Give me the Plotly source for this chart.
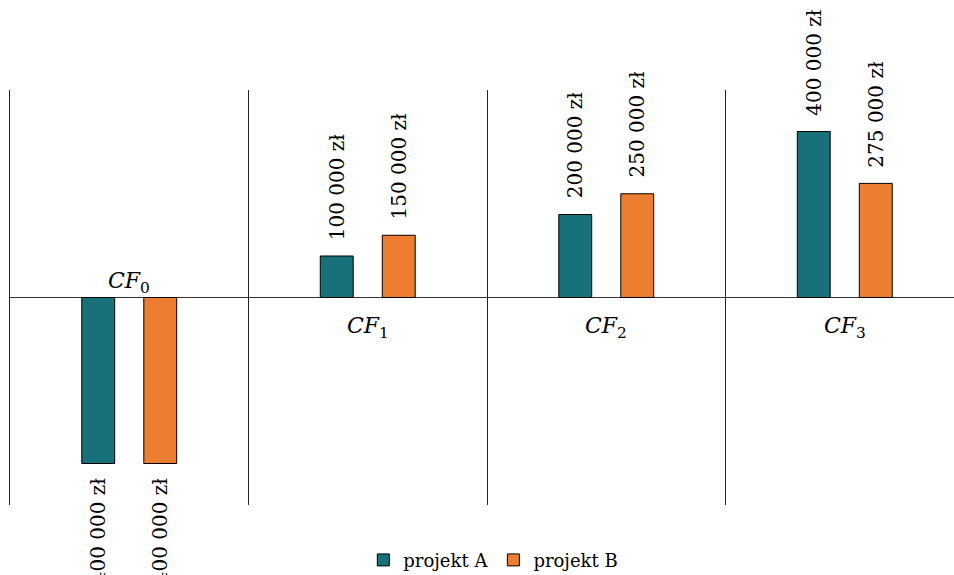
import plotly.graph_objects as go

# Cash flows per period for the two projects (PLN)
periods = ["0", "1", "2", "3"]
project_a = [-400000, 100000, 200000, 400000]
project_b = [-400000, 150000, 250000, 275000]
series_names = ["projekt A", "projekt B"]

colors = ["#17707A", "#ED7D31"]
font_family = "DejaVu Serif"
bar_width = 0.138
centers = [-0.13, 0.13]


def money(v):
    s = f"{abs(v):,}".replace(",", " ")
    return f"{s} zł"


fig = go.Figure()
annotations = []
for k, (name, values) in enumerate(zip(series_names, [project_a, project_b])):
    xs = list(range(len(periods)))
    fig.add_trace(go.Bar(
        x=xs, y=values, name=name,
        width=bar_width, offset=centers[k] - bar_width / 2,
        marker=dict(color=colors[k], line=dict(color="black", width=1)),
        hoverinfo="skip",
    ))
    for i, v in enumerate(values):
        annotations.append(dict(
            x=i + centers[k], y=v, xref="x", yref="y",
            text=money(v), showarrow=False, textangle=-90,
            xanchor="center",
            yanchor="bottom" if v >= 0 else "top",
            yshift=14 if v >= 0 else -12,
            font=dict(family=font_family, size=20, color="black"),
        ))

# period labels sit on the zero line, on the side away from the bars
for i, p in enumerate(periods):
    negative = project_a[i] < 0
    annotations.append(dict(
        x=i, y=0, xref="x", yref="y",
        text=f"<i>CF</i><sub>{p}</sub>", showarrow=False,
        xanchor="center", yanchor="middle",
        yshift=15 if negative else -30,
        font=dict(family=font_family, size=22, color="black"),
    ))

fig.update_layout(
    width=954, height=575,
    margin=dict(l=10, r=0, t=90, b=70, autoexpand=False),
    paper_bgcolor="white", plot_bgcolor="white",
    barmode="overlay",
    showlegend=True,
    legend=dict(orientation="h", x=0.512, xanchor="center", y=-0.133, yanchor="middle",
                font=dict(family=font_family, size=18, color="black"),
                itemwidth=30, traceorder="normal"),
    annotations=annotations,
    font=dict(family=font_family),
)
fig.update_xaxes(
    range=[-0.5, -0.5 + 944 / 238.5],
    tickmode="linear", tick0=-0.5, dtick=1,
    showgrid=True, gridcolor="#222", gridwidth=1.3,
    showticklabels=False, zeroline=False, showline=False, ticks="",
)
fig.update_yaxes(
    range=[-500000, 500000],
    showgrid=False, showticklabels=False,
    zeroline=True, zerolinecolor="#333", zerolinewidth=1.3,
    showline=True, linecolor="#222", linewidth=1.3,
    ticks="",
)

fig.write_html("out.html")
